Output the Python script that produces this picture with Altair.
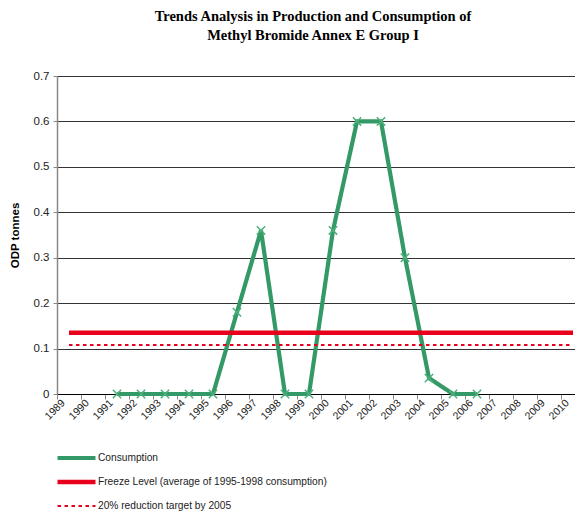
import altair as alt
import pandas as pd

years = ["1989", "1990", "1991", "1992", "1993", "1994", "1995", "1996", "1997",
         "1998", "1999", "2000", "2001", "2002", "2003", "2004", "2005", "2006",
         "2007", "2008", "2009", "2010"]

cons_years = ["1991", "1992", "1993", "1994", "1995", "1996", "1997", "1998",
              "1999", "2000", "2001", "2002", "2003", "2004", "2005", "2006"]
cons_vals = [0, 0, 0, 0, 0, 0.18, 0.36, 0, 0, 0.36, 0.6, 0.6, 0.3, 0.035, 0, 0]

freeze_years = ["1989", "2010"]
freeze_vals = [0.135, 0.135]
target_years = ["1989", "2010"]
target_vals = [0.108, 0.108]

series = ["Consumption",
          "Freeze Level (average of 1995-1998 consumption)",
          "20% reduction target by 2005"]

rows = []
for y, v in zip(cons_years, cons_vals):
    rows.append({"year": y, "value": v, "series": series[0]})
for y, v in zip(freeze_years, freeze_vals):
    rows.append({"year": y, "value": v, "series": series[1]})
for y, v in zip(target_years, target_vals):
    rows.append({"year": y, "value": v, "series": series[2]})
df = pd.DataFrame(rows)

green = "#339966"
red = "#E8001C"

x_enc = alt.X("year:O", sort=years,
              scale=alt.Scale(domain=years, paddingInner=0, paddingOuter=0, range=[0, 528]),
              axis=alt.Axis(title=None, labelAngle=-45, labelAlign="right", labelBaseline="middle",
                            labelOffset=-6, labelPadding=2, tickBand="extent", tickSize=5,
                            tickColor="#888888", domainColor="#000000", domainWidth=1.2,
                            labelFontSize=10.5, labelColor="#222222", grid=False))
y_enc = alt.Y("value:Q", scale=alt.Scale(domain=[0, 0.7], nice=False),
              axis=alt.Axis(title="ODP tonnes", values=[0, 0.1, 0.2, 0.3, 0.4, 0.5, 0.6, 0.7],
                            labelExpr="datum.value == 0 ? '0' : format(datum.value, '.1f')",
                            grid=True, gridColor="#333333", gridWidth=1, tickSize=4,
                            tickColor="#888888", domainColor="#888888", domainWidth=1.5,
                            labelFontSize=11.5, labelColor="#222222", labelPadding=4,
                            titleFontSize=11.5, titleFontWeight="bold", titleColor="#000000",
                            titlePadding=13))

leg = dict(title=None, orient="none", legendX=-2, legendY=376,
           direction="vertical", symbolType="stroke",
           symbolSize=1444, clipHeight=12, rowPadding=12,
           labelFontSize=10.2, labelColor="#222222", labelOffset=0,
           padding=0, labelLimit=400)

lines = alt.Chart(df).mark_line().encode(
    x=x_enc,
    y=y_enc,
    color=alt.Color("series:N", scale=alt.Scale(domain=series, range=[green, red, red]),
                    legend=alt.Legend(**leg)),
    strokeDash=alt.StrokeDash("series:N",
                              scale=alt.Scale(domain=series, range=[[1, 0], [1, 0], [3.5, 3.5]]),
                              legend=alt.Legend(**leg)),
    strokeWidth=alt.StrokeWidth("series:N",
                                scale=alt.Scale(type="ordinal", domain=series, range=[4.2, 4.5, 2]),
                                legend=alt.Legend(**leg)),
)

pts = alt.Chart(df[df["series"] == series[0]]).mark_point(
    shape="M-1,-1L1,1M-1,1L1,-1", filled=False, stroke="#4DB07A", strokeWidth=1.5, size=70, opacity=1
).encode(x=alt.X("year:O", sort=years), y=alt.Y("value:Q"))

chart = alt.layer(lines, pts).properties(
    width=518, height=318,
    padding={"left": 49, "top": 68, "right": 0, "bottom": 118},
    autosize=alt.AutoSizeParams(type="none"),
    title=alt.TitleParams(
        text=["Trends Analysis in Production and Consumption of", "Methyl Bromide Annex E Group I"],
        font="Liberation Serif", fontSize=14.5, fontWeight="bold", color="#000000",
        lineHeight=19, offset=27, anchor="middle", dx=-3),
).configure_view(stroke=None).configure(font="Liberation Sans")

chart.save("out.html", embed_options={"renderer": "svg", "actions": False})
